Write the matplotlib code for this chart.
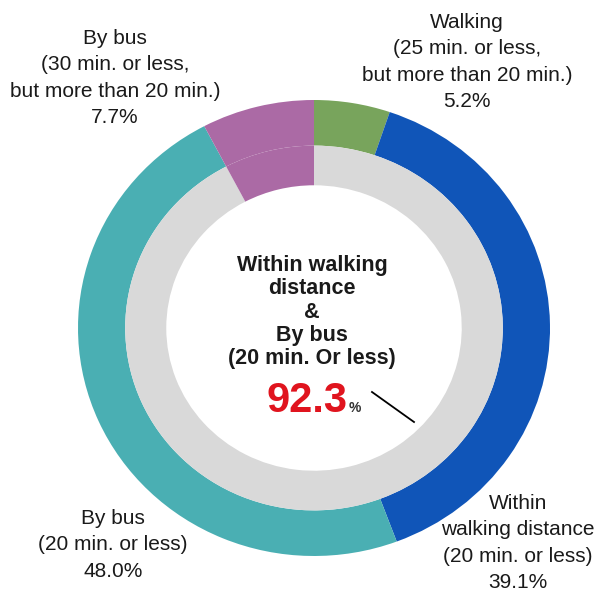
import numpy as np
import matplotlib
matplotlib.use('Agg')
import matplotlib.pyplot as plt
from matplotlib import rc

rc('font', family=['Liberation Sans', 'DejaVu Sans'])

# outer ring, clockwise from 12 o'clock
categories = ['Walking\n(25 min. or less,\nbut more than 20 min.)',
              'Within\nwalking distance\n(20 min. or less)',
              'By bus\n(20 min. or less)',
              'By bus\n(30 min. or less,\nbut more than 20 min.)']
shares = [5.2, 39.1, 48.0, 7.7]
ring_colors = ['#78a45c', '#1055b8', '#4aafb3', '#ab6aa5']

# inner ring: total within walking distance & bus 20 min vs rest
inner_labels = ['Within walking\ndistance\n&\nBy bus\n(20 min. Or less)', 'rest']
inner_shares = [92.3, 7.7]
inner_colors = ['#d9d9d9', '#ab6aa5']

W, H = 609, 601
fig = plt.figure(figsize=(W / 100, H / 100), dpi=100)

# pie axes placed in pixel terms (slightly wider than tall, like the source)
cx, cy, rx, ry = 314, 328, 236, 228
axp = fig.add_axes([(cx - rx) / W, (H - cy - ry) / H, 2 * rx / W, 2 * ry / H])
axp.pie(shares, colors=ring_colors, startangle=90, counterclock=False,
        radius=1.0, wedgeprops=dict(width=0.2, linewidth=0))
axp.pie(inner_shares, colors=inner_colors, startangle=90, counterclock=False,
        radius=0.8, wedgeprops=dict(width=0.174, linewidth=0))
axp.set_aspect('auto')
axp.set_xlim(-1, 1)
axp.set_ylim(-1, 1)
axp.axis('off')

# overlay for text in pixel coords
ax = fig.add_axes([0, 0, 1, 1])
ax.set_xlim(0, W)
ax.set_ylim(H, 0)
ax.axis('off')
ax.patch.set_alpha(0)

tc = '#1a1a1a'
fs = 15
label_pos = [(467, 62), (518, 543), (113, 545), (115, 78)]
for lab, val, (x, y) in zip(categories, shares, label_pos):
    ax.text(x, y, lab + '\n%.1f%%' % val, ha='center', va='center',
            fontsize=fs, color=tc, linespacing=1.48)

ax.text(312, 312, inner_labels[0], ha='center', va='center',
        fontsize=15.5, fontweight='bold', color=tc, linespacing=1.14)

ax.text(348, 412, '%.1f' % inner_shares[0], ha='right', va='baseline',
        fontsize=30, fontweight='bold', color='#e0141e')
ax.text(349, 412, '%', ha='left', va='baseline', fontsize=10,
        fontweight='bold', color='#333333')

ax.plot([372, 414], [392, 422], color='black', lw=1.3)

fig.savefig('out.png', dpi=100)
